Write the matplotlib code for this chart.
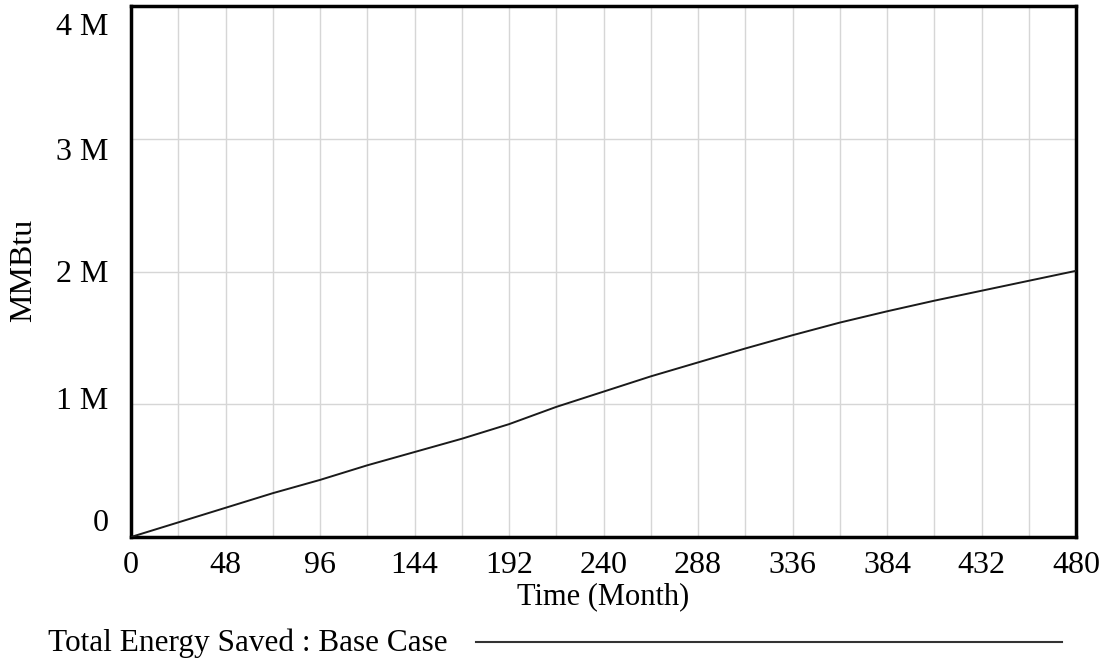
import matplotlib
matplotlib.use("Agg")
import matplotlib.pyplot as plt
from matplotlib.ticker import FuncFormatter
from matplotlib.transforms import ScaledTranslation

plt.rcParams['font.family'] = ['Liberation Serif', 'DejaVu Serif']

# months and total energy saved (millions of MMBtu)
months = [0, 24, 48, 72, 96, 120, 144, 168, 192, 216, 240,
          264, 288, 312, 336, 360, 384, 408, 432, 456, 480]
saved_m = [0.0, 0.11, 0.22, 0.33, 0.43, 0.54, 0.64, 0.74, 0.85, 0.98, 1.095,
           1.21, 1.315, 1.42, 1.52, 1.615, 1.70, 1.78, 1.855, 1.93, 2.005]
x_ticks = [0, 48, 96, 144, 192, 240, 288, 336, 384, 432, 480]
y_ticks = [0, 1, 2, 3, 4]
series_name = "Total Energy Saved : Base Case"

fig = plt.figure(figsize=(11.03, 6.59), dpi=100)
ax = fig.add_axes([131/1103, 122/659, 945/1103, 531/659])

ax.plot(months, saved_m, color='#1a1a1a', linewidth=1.4, zorder=3)

ax.set_xlim(0, 480)
ax.set_ylim(0, 4)
ax.set_xticks(x_ticks)
ax.set_xticks(range(0, 481, 24), minor=True)
ax.set_yticks(y_ticks)
ax.yaxis.set_major_formatter(FuncFormatter(lambda v, p: "0" if v == 0 else f"{int(v)} M"))

ax.grid(True, which='both', axis='x', color='#d6d6d6', linewidth=1)
ax.grid(True, which='major', axis='y', color='#d6d6d6', linewidth=1)
ax.tick_params(which='both', length=0, labelsize=23)
ax.tick_params(axis='x', pad=10)
ax.tick_params(axis='y', pad=16)

# vensim spreads the y labels a bit inside the frame
shift_px = [-17, -6, 0, 10, 18]
for tick, dy in zip(ax.yaxis.get_major_ticks(), shift_px):
    lab = tick.label1
    lab.set_transform(lab.get_transform() +
                      ScaledTranslation(0, -dy / 100, fig.dpi_scale_trans))

for s in ax.spines.values():
    s.set_linewidth(2.5)
    s.set_color('black')

ax.set_xlabel("Time (Month)", fontsize=22, va='center')
ax.xaxis.set_label_coords(0.5, -0.112)
ax.set_ylabel("MMBtu", fontsize=23, va='center')
ax.yaxis.set_label_coords(-0.114, 0.503)

# legend line below the chart
fig.text(48/1103, 1 - 643/659, series_name, fontsize=22.5, va='center', ha='left')
fig.add_artist(plt.Line2D([476/1103, 1062/1103], [1 - 642/659, 1 - 642/659],
                          color='#333333', linewidth=1.5))

fig.savefig("out.png", dpi=100)
